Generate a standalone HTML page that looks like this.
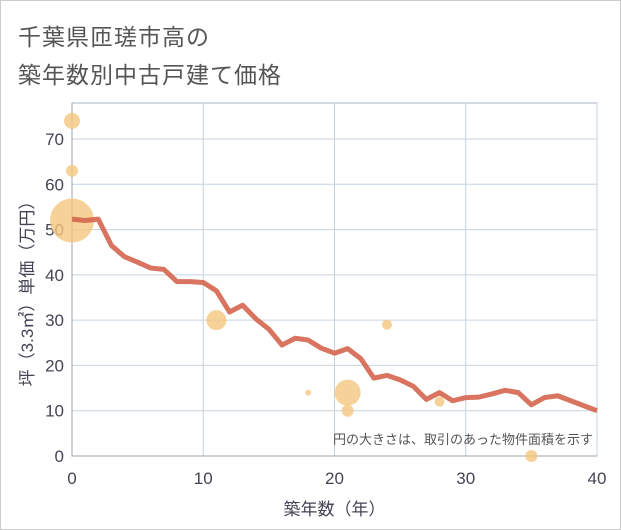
<!DOCTYPE html>
<html><head><meta charset="utf-8"><style>
body{margin:0;background:#fff;font-family:"Liberation Sans","Noto Sans CJK JP",sans-serif;}
#wrap{position:relative;width:619px;height:528px;border:1px solid #ccc;}
.t{position:absolute;left:17px;color:#555;font-size:23px;letter-spacing:1px}
</style></head><body>
<div id="wrap">
<div class="t" style="top:17px">千葉県匝瑳市高の</div>
<div class="t" style="top:55px">築年数別中古戸建て価格</div>
<svg id="svg" width="619" height="528" style="position:absolute;left:0;top:0" font-family="Liberation Sans, Noto Sans CJK JP, sans-serif"></svg>
</div>
<script>
const years=[0,1,2,3,4,5,6,7,8,9,10,11,12,13,14,15,16,17,18,19,20,21,22,23,24,25,26,27,28,29,30,31,32,33,34,35,36,37,38,39,40];
const prices=[52.3,52,52.3,46.5,44,42.8,41.5,41.2,38.5,38.5,38.3,36.5,31.8,33.3,30.3,28,24.5,26,25.6,23.8,22.7,23.7,21.5,17.2,17.8,16.8,15.4,12.5,14,12.2,12.9,13,13.7,14.5,14,11.3,12.9,13.3,12.2,11.1,10];
const bubbleX=[0,0,0,11,18,21,21,24,28,35];
const bubbleY=[74,63,52,30,14,14,10,29,12,0];
const bubbleR=[8,6,22,10,3,13,6,5,5,6];
const xTicks=[0,10,20,30,40];
const yTicks=[0,10,20,30,40,50,60,70];
const NS="http://www.w3.org/2000/svg";
const svg=document.getElementById('svg');
const L=71,R=596,T=102,B=455;
const xs=v=>L+(R-L)*v/40;
const ys=v=>B-(B-138)*v/70;
function mk(t,a){const e=document.createElementNS(NS,t);for(const k in a)e.setAttribute(k,a[k]);svg.appendChild(e);return e;}
let bg=mk('rect',{x:L,y:T,width:R-L,height:B-T,fill:'#fff',stroke:'#aab4c0'});


yTicks.forEach(v=>{
 let g=mk('line',{x1:L,x2:R,y1:ys(v),y2:ys(v),stroke:'#c5d3e0'});
 
 
 let t=mk('text',{x:L-8,y:ys(v)+6,'text-anchor':'end','font-size':17,fill:'#445'});t.textContent=v;
 
 
});
xTicks.forEach(v=>{
 let g=mk('line',{x1:xs(v),x2:xs(v),y1:T,y2:B,stroke:'#c5d3e0'});
 
 
 let t=mk('text',{x:xs(v),y:B+28,'text-anchor':'middle','font-size':17,fill:'#445'});t.textContent=v;
 
 
});
let ax=mk('path',{d:`M${L},${T}V${B}H${R}`,stroke:'#99a4b0',fill:'none'});


bubbleX.forEach((x,i)=>{
 let c=mk('circle',{cx:xs(x),cy:ys(bubbleY[i]),r:bubbleR[i],fill:'#f5c77e',opacity:0.8});
 
 
});
let p=mk('polyline',{points:years.map((y,i)=>xs(y)+','+ys(prices[i])).join(' '),fill:'none',stroke:'#d4654f','stroke-width':5,'stroke-linejoin':'round',opacity:0.9});


let n=mk('text',{x:R-4,y:443,'text-anchor':'end','font-size':13,fill:'#555'});n.textContent='円の大きさは、取引のあった物件面積を示す';


let xt=mk('text',{x:(L+R)/2,y:514,'text-anchor':'middle','font-size':17,fill:'#445'});xt.textContent='築年数（年）';


let yt=mk('text',{x:0,y:0,'text-anchor':'middle','font-size':17,fill:'#445',transform:`translate(32,${(T+B)/2+10}) rotate(-90)`});yt.textContent='坪（3.3㎡）単価（万円）';


</script>
</body></html>
